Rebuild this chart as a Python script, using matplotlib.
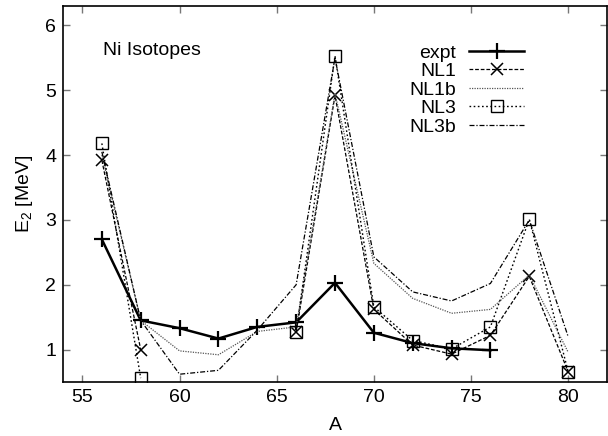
import numpy as np
import matplotlib
matplotlib.use("Agg")
from matplotlib import pyplot as plt

plt.rcParams["font.family"] = ["Liberation Sans", "DejaVu Sans"]
plt.rcParams["mathtext.fontset"] = "custom"
plt.rcParams["mathtext.rm"] = "Liberation Sans"
plt.rcParams["mathtext.it"] = "Liberation Sans"

nan = np.nan

# mass number
mass = [56, 58, 60, 62, 64, 66, 68, 70, 72, 74, 76, 78, 80]

# first 2+ excitation energies, MeV
expt = [2.70, 1.45, 1.33, 1.17, 1.35, 1.42, 2.03, 1.26, 1.10, 1.02, 0.99, nan, nan]
nl1 = [3.92, 1.00, nan, nan, nan, 1.27, 4.92, 1.62, 1.07, 0.93, 1.22, 2.13, 0.66]
nl1b = [4.00, 1.45, 0.98, 0.92, 1.28, 1.35, 4.95, 2.33, 1.79, 1.56, 1.62, 2.15, 0.96]
nl3 = [4.18, 0.56, nan, nan, nan, 1.27, 5.53, 1.66, 1.14, 1.01, 1.35, 3.01, 0.66]
nl3b = [4.05, 1.45, 0.62, 0.68, 1.30, 2.00, 5.50, 2.43, 1.89, 1.75, 2.02, 3.00, 1.20]

fs = 14

fig = plt.figure(figsize=(6.08, 4.36), dpi=100)
ax = fig.add_axes([63 / 608, 54 / 436, 544 / 608, 376 / 436])

ax.plot(mass, expt, color="black", lw=1.8, marker="+", ms=12, mew=1.6,
        label="expt")
ax.plot(mass, nl1, color="black", lw=0.9, ls=(0, (3, 1.5)), marker="x",
        ms=9, mew=1.1, label="NL1")
ax.plot(mass, nl1b, color="#555555", lw=0.9, ls=(0, (1, 1)), label="NL1b")
ax.plot(mass, nl3, color="black", lw=1.0, ls=(0, (1.2, 1.8)), marker="s",
        ms=8, mfc="none", mew=1.0, label="NL3")
ax.plot(mass, nl3b, color="black", lw=0.9, ls=(0, (4, 1.5, 1, 1.5)),
        label="NL3b")

ax.set_xlim(54, 82)
ax.set_ylim(0.5, 6.3)
ax.set_xticks([55, 60, 65, 70, 75, 80])
ax.set_yticks([1, 2, 3, 4, 5, 6])
ax.tick_params(direction="in", length=5, width=1, color="#777777",
               top=True, right=True, labelsize=fs, pad=5)
for s in ax.spines.values():
    s.set_linewidth(1.2)

ax.set_xlabel("A", fontsize=fs, labelpad=8)
ax.set_ylabel("E$_2$ [MeV]", fontsize=fs, labelpad=7)

ax.text(56.05, 5.62, "Ni Isotopes", fontsize=fs, va="center", ha="left")

ax.legend(loc="upper right", bbox_to_anchor=(0.865, 0.925), frameon=False,
          markerfirst=False, fontsize=fs, handlelength=2.8,
          handletextpad=0.7, labelspacing=0.05, borderpad=0)

fig.savefig("out.png", dpi=100)
